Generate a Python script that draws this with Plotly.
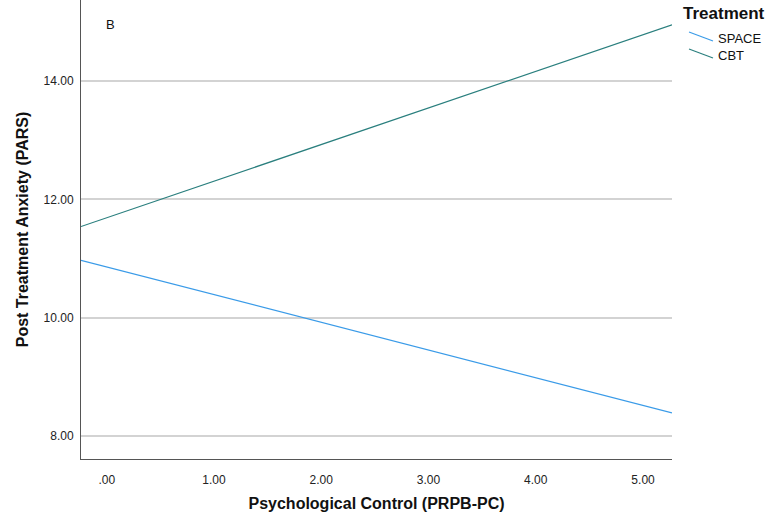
import plotly.graph_objects as go

# Data (fitted lines, endpoints at axis range)
x_vals = [-0.24, 5.27]
space_vals = [10.97, 8.39]
cbt_vals = [11.54, 14.95]

x_tickvals = [0, 1, 2, 3, 4, 5]
x_ticktext = [".00", "1.00", "2.00", "3.00", "4.00", "5.00"]
y_tickvals = [8, 10, 12, 14]
y_ticktext = ["8.00", "10.00", "12.00", "14.00"]

SPACE_COLOR = "#3a9be8"
CBT_COLOR = "#2a7f7e"

fig = go.Figure()
fig.add_trace(go.Scatter(x=x_vals, y=space_vals, mode="lines", name="SPACE",
                         line=dict(color=SPACE_COLOR, width=1.2), showlegend=False))
fig.add_trace(go.Scatter(x=x_vals, y=cbt_vals, mode="lines", name="CBT",
                         line=dict(color=CBT_COLOR, width=1.2), showlegend=False))

font_tick = dict(family="Liberation Sans, Arial, sans-serif", size=12, color="#222222")
font_title = dict(family="Liberation Sans, Arial, sans-serif", size=16, color="#111111")

fig.update_layout(
    width=768, height=512,
    margin=dict(l=81, r=96, t=0, b=53),
    paper_bgcolor="white", plot_bgcolor="white",
    xaxis=dict(range=[-0.24, 5.27], tickvals=x_tickvals, ticktext=x_ticktext,
               showgrid=False, zeroline=False, showline=True, linecolor="#555555",
               linewidth=1, ticks="", tickfont=font_tick, ticklabelstandoff=10,
               title=dict(text="<b>Psychological Control (PRPB-PC)</b>", font=font_title,
                          standoff=14)),
    yaxis=dict(range=[7.61, 15.37], tickvals=y_tickvals, ticktext=y_ticktext,
               showgrid=True, gridcolor="#d3d3d3", gridwidth=1.5, zeroline=False,
               showline=True, linecolor="#555555", linewidth=1, ticks="",
               tickfont=font_tick, ticklabelstandoff=4,
               title=dict(text="<b>Post Treatment Anxiety (PARS)</b>", font=font_title,
                          standoff=10)),
    showlegend=False,
)

# Panel label
fig.add_annotation(text="B", xref="paper", yref="paper", x=(110 - 81) / 591, y=(459 - 24) / 459,
                   xanchor="center", yanchor="middle",
                   showarrow=False, font=dict(family="Liberation Sans, Arial, sans-serif", size=13, color="#111111"))

# Custom legend
fig.add_annotation(text="<b>Treatment</b>", xref="paper", yref="paper",
                   x=(681 - 81) / 591, y=(459 - 14) / 459, xanchor="left", yanchor="middle",
                   showarrow=False, font=dict(family="Liberation Sans, Arial, sans-serif", size=17, color="#111111"))
legend_items = [("SPACE", SPACE_COLOR, 38), ("CBT", CBT_COLOR, 55)]
for name, color, ypix in legend_items:
    fig.add_shape(type="line", xref="paper", yref="paper",
                  x0=(689 - 81) / 591, y0=(459 - (ypix - 6)) / 459,
                  x1=(713 - 81) / 591, y1=(459 - (ypix + 3)) / 459,
                  line=dict(color=color, width=1.2))
    fig.add_annotation(text=name, xref="paper", yref="paper",
                       x=(716 - 81) / 591, y=(459 - ypix) / 459, xanchor="left", yanchor="middle",
                       showarrow=False, font=dict(family="Liberation Sans, Arial, sans-serif", size=13, color="#111111"))

fig.write_html("out.html", config={"displayModeBar": False},
               post_script="document.body.style.margin='0';document.body.style.overflow='hidden';")
